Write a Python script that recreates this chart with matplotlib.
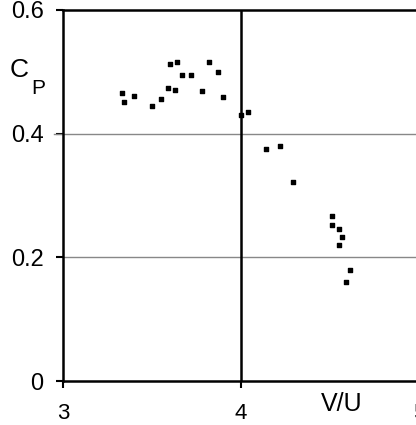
import numpy as np
import matplotlib.pyplot as plt

# ratio V/U and power coefficient
v_over_u = [3.33, 3.34, 3.40, 3.50, 3.55, 3.59, 3.63, 3.60, 3.64, 3.67,
            3.72, 3.78, 3.82, 3.87, 3.90, 4.00, 4.04, 4.14, 4.22, 4.29,
            4.51, 4.51, 4.55, 4.57, 4.55, 4.61, 4.59]
cp = [0.466, 0.451, 0.461, 0.445, 0.456, 0.474, 0.471, 0.513, 0.516, 0.495,
      0.495, 0.469, 0.516, 0.500, 0.460, 0.430, 0.435, 0.375, 0.380, 0.322,
      0.267, 0.252, 0.246, 0.233, 0.220, 0.180, 0.160]

x_ticks = [3, 4, 5]
y_ticks = [0, 0.2, 0.4, 0.6]
y_tick_labels = ['0', '0.2', '0.4', '0.6']

plt.rcParams['font.family'] = ['Liberation Sans Narrow', 'Liberation Sans', 'DejaVu Sans']

fig = plt.figure(figsize=(4.16, 4.25), dpi=100)
ax = fig.add_axes([63 / 416, 44 / 425, 356 / 416, 371 / 425])

ax.set_xlim(3, 5)
ax.set_ylim(0, 0.6)

# grid: grey horizontals, black vertical at 4
for yv in [0.2, 0.4]:
    ax.axhline(yv, color='#888888', lw=1.0, zorder=1)
ax.axhline(0.4, xmin=-0.025, xmax=0, color='#888888', lw=1.0, clip_on=False)
ax.axvline(4, color='black', lw=1.8, zorder=1)

ax.scatter(v_over_u, cp, marker='s', s=10, color='black', zorder=3)

for side in ['left', 'bottom', 'top']:
    ax.spines[side].set_linewidth(1.8)
ax.spines['right'].set_visible(False)

ax.set_xticks(x_ticks)
ax.set_xticklabels([str(t) for t in x_ticks])
ax.set_yticks(y_ticks)
ax.set_yticklabels(y_tick_labels)
ax.tick_params(axis='x', length=5, width=1.5, pad=11, labelsize=16)
ax.tick_params(axis='y', length=5, width=1.5, pad=9, labelsize=17)

fig.text(10 / 416, 1 - 70 / 425, 'C', fontsize=19, va='center', ha='left')
fig.text(31 / 416, 1 - 88 / 425, 'P', fontsize=15, va='center', ha='left')
fig.text(342 / 416, 1 - 404 / 425, 'V/U', fontsize=18, va='center', ha='center')

fig.savefig('out.png', dpi=100)
